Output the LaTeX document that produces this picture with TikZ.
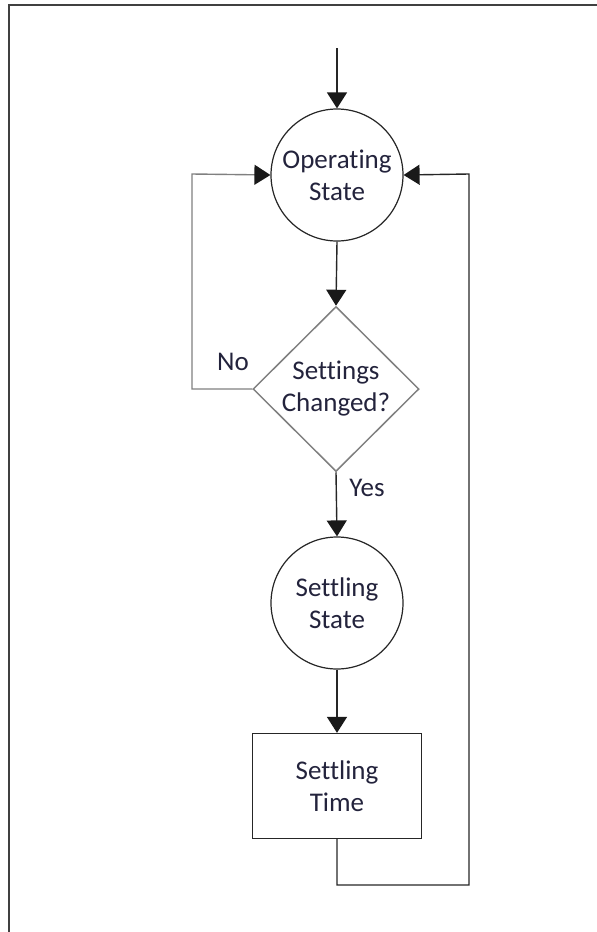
\documentclass[tikz,border=0pt]{standalone}
\usepackage{fontspec}
\setmainfont{Carlito}[RawFeature={-liga;-clig;-calt;-dlig}]
\usetikzlibrary{shapes.geometric,arrows.meta}
\definecolor{txt}{RGB}{35,35,60}
\definecolor{frame}{RGB}{64,64,64}
\definecolor{dgray}{RGB}{128,128,128}
\begin{document}
\begin{tikzpicture}[x=1pt,y=-1pt,
  every node/.style={font=\fontsize{27}{32}\selectfont, text=txt, align=center},
  statecirc/.style={circle, draw=black!85, line width=1.2pt, minimum size=132pt, inner sep=0pt},
  decbox/.style={diamond, draw=dgray, line width=1.5pt, minimum width=166pt, minimum height=165pt, inner sep=0pt},
  procbox/.style={rectangle, draw=black!85, line width=1.3pt, minimum width=169pt, minimum height=105pt, inner sep=0pt},
  conn/.style={draw=black!85, line width=1.4pt},
  arr/.style={conn, -{Triangle[width=20pt,length=16pt,color=black!90]}},
  lbl/.style={inner sep=0pt}]
\useasboundingbox (0,0) rectangle (597,932);
\draw[frame, line width=2pt] (9,932) -- (9,5) -- (597,5);
\node[statecirc] (op) at (337,175) {Operating\\State};
\node[decbox] (dec) at (336,389) {Settings\\Changed?};
\node[statecirc] (st) at (337,603) {Settling\\State};
\node[procbox] (tm) at (337,786) {Settling\\Time};
\coordinate (start) at (337,48);
\coordinate (nl) at (192,389);
\coordinate (nt) at (192,174);
\coordinate (bb) at (337,885);
\coordinate (br) at (469,885);
\coordinate (rt) at (469,174);
\draw[arr] (start) -- (op.north);
\draw[arr] (op.south) -- (dec.north);
\draw[arr] (dec.south) -- (st.north);
\draw[arr] (st.south) -- (tm.north);
\draw[arr, draw=dgray] (dec.west) -- (nl) -- (nt) -- (op.west);
\draw[arr] (tm.south) -- (bb) -- (br) -- (rt) -- (op.east);
\node[lbl] (no) at (233,362) {No};
\node[lbl] (yes) at (367,488) {Yes};
\end{tikzpicture}
\end{document}
